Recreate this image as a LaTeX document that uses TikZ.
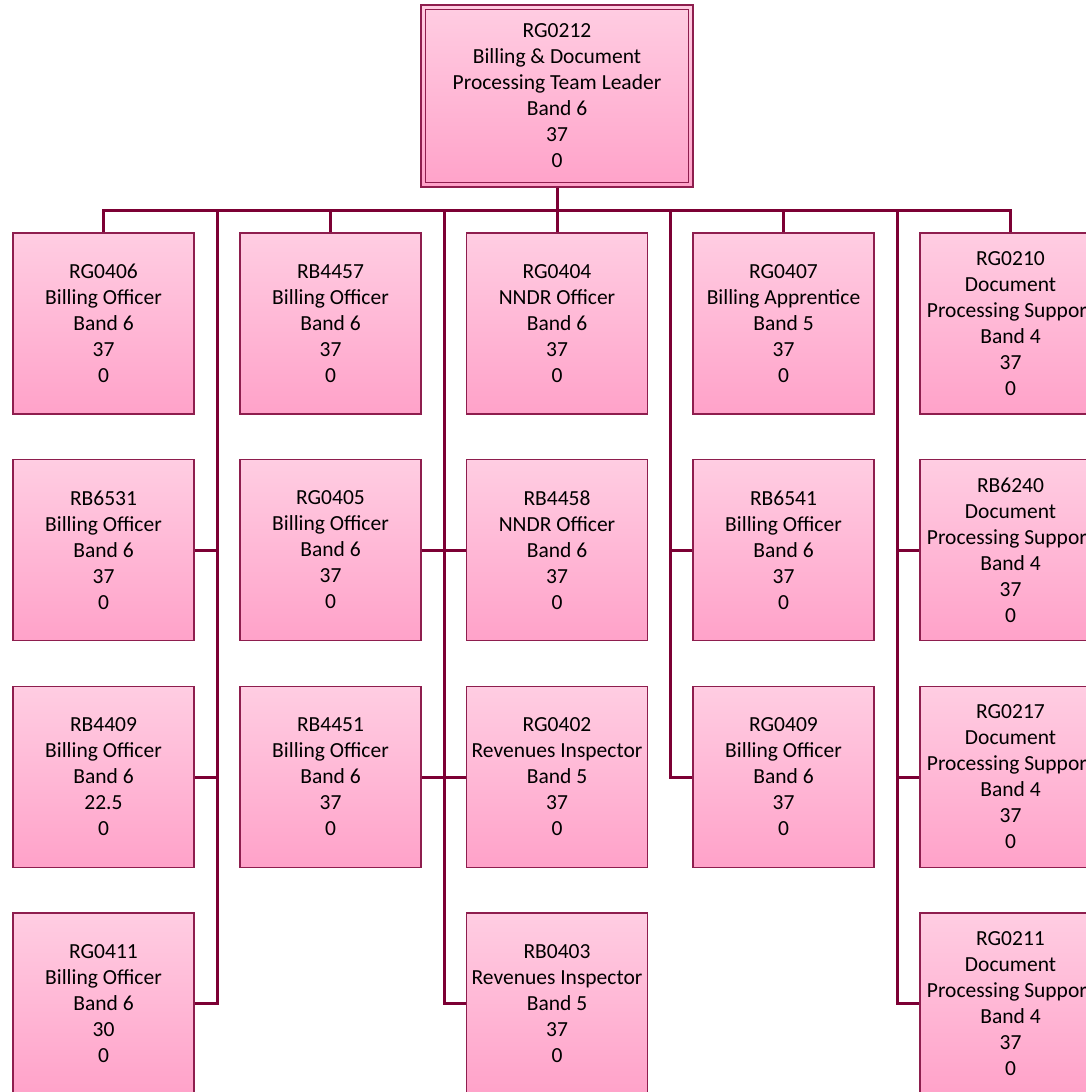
\documentclass[tikz,border=0pt]{standalone}
\usepackage{fontspec}
\setmainfont{Carlito}
\definecolor{BoxTop}{HTML}{FFCDE2}
\definecolor{BoxBot}{HTML}{FFA2C9}
\definecolor{BoxEdge}{HTML}{8E1E4E}
\definecolor{WireRed}{HTML}{7C0034}
\tikzstyle{PostBox} = [draw=BoxEdge,line width=1.3pt,top color=BoxTop,bottom color=BoxBot,minimum width=181pt,minimum height=181pt,inner sep=0pt,align=center,font=\fontsize{21.5}{26}\selectfont]
\tikzstyle{LeadBox} = [PostBox,minimum width=272pt,minimum height=182pt]
\tikzstyle{Wire} = [draw=WireRed,line width=3pt]

\begin{document}
\begin{tikzpicture}[x=1pt,y=-1pt]
\useasboundingbox (0,0) rectangle (1086,1092);
\clip (0,0) rectangle (1086,1092);

\coordinate (bus) at (0,210);

% team leader
\node[LeadBox] (rg0212) at (557,96) {RG0212\\Billing \& Document\\Processing Team Leader\\Band 6\\37\\0};
\draw[BoxEdge,line width=1.3pt] ([shift={(5pt,-5pt)}]rg0212.north west) rectangle ([shift={(-5pt,5pt)}]rg0212.south east);

% first column
\node[PostBox] (rg0406) at (103.5,323.5) {RG0406\\Billing Officer\\Band 6\\37\\0};
\node[PostBox] (rb6531) at (103.5,550) {RB6531\\Billing Officer\\Band 6\\37\\0};
\node[PostBox] (rb4409) at (103.5,777) {RB4409\\Billing Officer\\Band 6\\22.5\\0};
\node[PostBox] (rg0411) at (103.5,1003.5) {RG0411\\Billing Officer\\Band 6\\30\\0};

% second column
\node[PostBox] (rb4457) at (330.5,323.5) {RB4457\\Billing Officer\\Band 6\\37\\0};
\node[PostBox] (rg0405) at (330.5,550) {RG0405\\Billing Officer\\Band 6\\37\\0};
\node[PostBox] (rb4451) at (330.5,777) {RB4451\\Billing Officer\\Band 6\\37\\0};

% third column
\node[PostBox] (rg0404) at (557,323.5) {RG0404\\NNDR Officer\\Band 6\\37\\0};
\node[PostBox] (rb4458) at (557,550) {RB4458\\NNDR Officer\\Band 6\\37\\0};
\node[PostBox] (rg0402) at (557,777) {RG0402\\Revenues Inspector\\Band 5\\37\\0};
\node[PostBox] (rb0403) at (557,1003.5) {RB0403\\Revenues Inspector\\Band 5\\37\\0};

% fourth column
\node[PostBox] (rg0407) at (783.5,323.5) {RG0407\\Billing Apprentice\\Band 5\\37\\0};
\node[PostBox] (rb6541) at (783.5,550) {RB6541\\Billing Officer\\Band 6\\37\\0};
\node[PostBox] (rg0409) at (783.5,777) {RG0409\\Billing Officer\\Band 6\\37\\0};

% fifth column
\node[PostBox] (rg0210) at (1010.5,323.5) {RG0210\\Document\\Processing Support\\Band 4\\37\\0};
\node[PostBox] (rb6240) at (1010.5,550) {RB6240\\Document\\Processing Support\\Band 4\\37\\0};
\node[PostBox] (rg0217) at (1010.5,777) {RG0217\\Document\\Processing Support\\Band 4\\37\\0};
\node[PostBox] (rg0211) at (1010.5,1003.5) {RG0211\\Document\\Processing Support\\Band 4\\37\\0};

% spines
\coordinate (spineA) at (217,210);
\coordinate (spineB) at (444,210);
\coordinate (spineC) at (670.5,210);
\coordinate (spineD) at (897,210);

% bus
\draw[Wire] (rg0406.north) -- (rg0406.north |- bus) -- (rg0210.north |- bus) -- (rg0210.north);
\draw[Wire] (rg0212.south) -- (rg0404.north);
\draw[Wire] (rb4457.north) -- (rb4457.north |- bus);
\draw[Wire] (rg0407.north) -- (rg0407.north |- bus);

\draw[Wire] (spineA) |- (rg0411.east);
\draw[Wire] (spineA |- rb6531.east) -- (rb6531.east);
\draw[Wire] (spineA |- rb4409.east) -- (rb4409.east);

\draw[Wire] (spineB) |- (rb0403.west);
\draw[Wire] (rg0405.east) -- (rb4458.west);
\draw[Wire] (rb4451.east) -- (rg0402.west);

\draw[Wire] (spineC) |- (rg0409.west);
\draw[Wire] (spineC |- rb6541.west) -- (rb6541.west);

\draw[Wire] (spineD) |- (rg0211.west);
\draw[Wire] (spineD |- rb6240.west) -- (rb6240.west);
\draw[Wire] (spineD |- rg0217.west) -- (rg0217.west);

\end{tikzpicture}
\end{document}
